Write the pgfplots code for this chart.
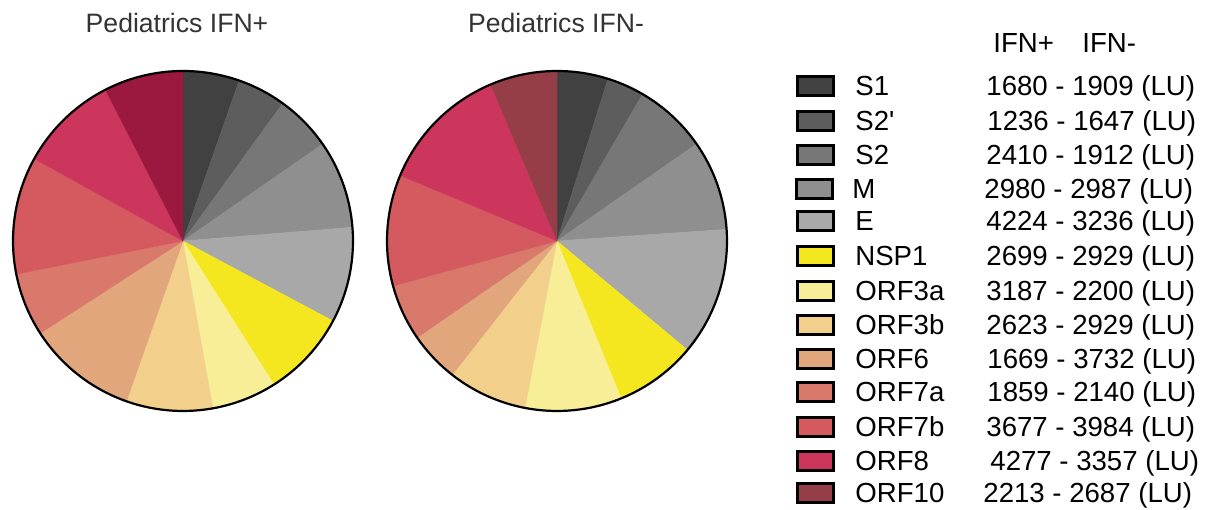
\documentclass[border=0pt]{standalone}
\usepackage{pgfplots}
\pgfplotsset{compat=1.18}
\usepackage{pgfplotstable}
\usepackage{fontspec}
\setmainfont{Liberation Sans}[Ligatures=TeXOff]

\definecolor{c0}{HTML}{414141}
\definecolor{c1}{HTML}{5D5D5D}
\definecolor{c2}{HTML}{777777}
\definecolor{c3}{HTML}{8F8F8F}
\definecolor{c4}{HTML}{A8A8A8}
\definecolor{c5}{HTML}{F4E71F}
\definecolor{c6}{HTML}{F8EE98}
\definecolor{c7}{HTML}{F2D08C}
\definecolor{c8}{HTML}{E1A67B}
\definecolor{c9}{HTML}{D9796C}
\definecolor{c10}{HTML}{D45A5F}
\definecolor{c11}{HTML}{CC365C}
\definecolor{c12}{HTML}{953E48}
\colorlet{cL0}{c0}\colorlet{cL1}{c1}\colorlet{cL2}{c2}\colorlet{cL3}{c3}
\colorlet{cL4}{c4}\colorlet{cL5}{c5}\colorlet{cL6}{c6}\colorlet{cL7}{c7}
\colorlet{cL8}{c8}\colorlet{cL9}{c9}\colorlet{cL10}{c10}\colorlet{cL11}{c11}
\definecolor{cL12}{HTML}{9B183F}
\colorlet{cR0}{c0}\colorlet{cR1}{c1}\colorlet{cR2}{c2}\colorlet{cR3}{c3}
\colorlet{cR4}{c4}\colorlet{cR5}{c5}\colorlet{cR6}{c6}\colorlet{cR7}{c7}
\colorlet{cR8}{c8}\colorlet{cR9}{c9}\colorlet{cR10}{c10}\colorlet{cR11}{c11}
\colorlet{cR12}{c12}
\definecolor{titlegray}{HTML}{333333}

% values (LU): IFN+ and IFN-
\pgfplotstableread{
name plus minus
S1 1680 1909
S2p 1236 1647
S2 2410 1912
M 2980 2987
E 4224 3236
NSP1 2699 2929
ORF3a 3187 2200
ORF3b 2623 2929
ORF6 1669 3732
ORF7a 1859 2140
ORF7b 3677 3984
ORF8 4277 3357
ORF10 2213 2687
}\piedata

% cumulative angles (degrees, clockwise from 12 o'clock)
\newcommand\pieangles[2]{%
  \gdef\pietot{0}%
  \foreach \i in {0,...,12}{%
    \pgfplotstablegetelem{\i}{#1}\of\piedata
    \pgfmathsetmacro\tmp{\pietot+\pgfplotsretval/1000}%
    \xdef\pietot{\tmp}%
  }%
  \gdef\piecum{0}%
  \foreach \i in {0,...,12}{%
    \pgfplotstablegetelem{\i}{#1}\of\piedata
    \expandafter\xdef\csname #2s\i\endcsname{\piecum}%
    \pgfmathsetmacro\tmp{\piecum+360*(\pgfplotsretval/1000)/\pietot}%
    \xdef\piecum{\tmp}%
    \expandafter\xdef\csname #2e\i\endcsname{\piecum}%
  }%
}
% left pie (titled IFN+) is drawn with the second column, right pie with the first
\pieangles{minus}{L}
\pieangles{plus}{R}

\begin{document}
\begin{tikzpicture}
\begin{axis}[
  width=603.5bp, height=255bp, scale only axis,
  xmin=0, xmax=1207, ymin=0, ymax=510,
  hide axis, clip=false,
]
% left pie, centre (183,269), r=170
\pgfplotsinvokeforeach{0,...,12}{%
  \edef\wa{\csname Ls#1\endcsname}\edef\wb{\csname Le#1\endcsname}%
  \addplot[fill=cL#1, draw=cL#1, line width=0.2pt, domain=\wa:\wb, samples=40, variable=\t]
    ({183+170*sin(\t)}, {269+170*cos(\t)}) -- (axis cs:183,269) -- cycle;
}
% right pie, centre (557,269), r=170
\pgfplotsinvokeforeach{0,...,12}{%
  \edef\wa{\csname Rs#1\endcsname}\edef\wb{\csname Re#1\endcsname}%
  \addplot[fill=cR#1, draw=cR#1, line width=0.2pt, domain=\wa:\wb, samples=40, variable=\t]
    ({557+170*sin(\t)}, {269+170*cos(\t)}) -- (axis cs:557,269) -- cycle;
}
\addplot[black, line width=1.1bp, domain=0:360, samples=241, variable=\t]
  ({183+170*sin(\t)}, {269+170*cos(\t)});
\addplot[black, line width=1.1bp, domain=0:360, samples=241, variable=\t]
  ({557+170*sin(\t)}, {269+170*cos(\t)});

% titles
\node[anchor=base, inner sep=0, text=titlegray, font=\fontsize{13.3bp}{16bp}\selectfont] at (axis cs:177,477) {Pediatrics IFN+};
\node[anchor=base, inner sep=0, text=titlegray, font=\fontsize{13.3bp}{16bp}\selectfont] at (axis cs:556,477) {Pediatrics IFN-};

% legend header
\node[anchor=base west, inner sep=0, font=\fontsize{13.8bp}{16bp}\selectfont] at (axis cs:993,457) {IFN+};
\node[anchor=base west, inner sep=0, font=\fontsize{13.8bp}{16bp}\selectfont] at (axis cs:1082,457) {IFN-};

% legend rows: colour, row centre (px from top), box x, name x, number x, name, numbers
\def\legrow#1#2#3#4#5#6#7{%
  \node[draw=black, line width=1.5bp, fill=c#1, minimum width=18bp, minimum height=9.5bp, inner sep=0] at (axis cs:#3,510-#2) {};
  \node[anchor=base west, inner sep=0, font=\fontsize{13.8bp}{16bp}\selectfont] at (axis cs:#4,500-#2) {#6};
  \node[anchor=base west, inner sep=0, font=\fontsize{13.8bp}{16bp}\selectfont] at (axis cs:#5,500-#2) {#7};
}
\legrow{0}{86}{815.5}{855}{986}{S1}{1680 - 1909 (LU)}
\legrow{1}{121}{815.5}{855}{987}{S2'}{1236 - 1647 (LU)}
\legrow{2}{155}{815.5}{855}{986}{S2}{2410 - 1912 (LU)}
\legrow{3}{189}{814}{852}{984}{M}{2980 - 2987 (LU)}
\legrow{4}{221}{815.5}{855}{986}{E}{4224 - 3236 (LU)}
\legrow{5}{256}{815.5}{855}{986}{NSP1}{2699 - 2929 (LU)}
\legrow{6}{291}{815.5}{855}{986}{ORF3a}{3187 - 2200 (LU)}
\legrow{7}{325}{815.5}{855}{986}{ORF3b}{2623 - 2929 (LU)}
\legrow{8}{359}{815.5}{855}{987}{ORF6}{1669 - 3732 (LU)}
\legrow{9}{392}{815.5}{855}{987}{ORF7a}{1859 - 2140 (LU)}
\legrow{10}{427}{815.5}{855}{986}{ORF7b}{3677 - 3984 (LU)}
\legrow{11}{461}{815.5}{855}{990}{ORF8}{4277 - 3357 (LU)}
\legrow{12}{493}{815.5}{855}{983}{ORF10}{2213 - 2687 (LU)}
\end{axis}
\pgfresetboundingbox
\path (current axis.south west) rectangle (current axis.north east);
\end{tikzpicture}
\end{document}
